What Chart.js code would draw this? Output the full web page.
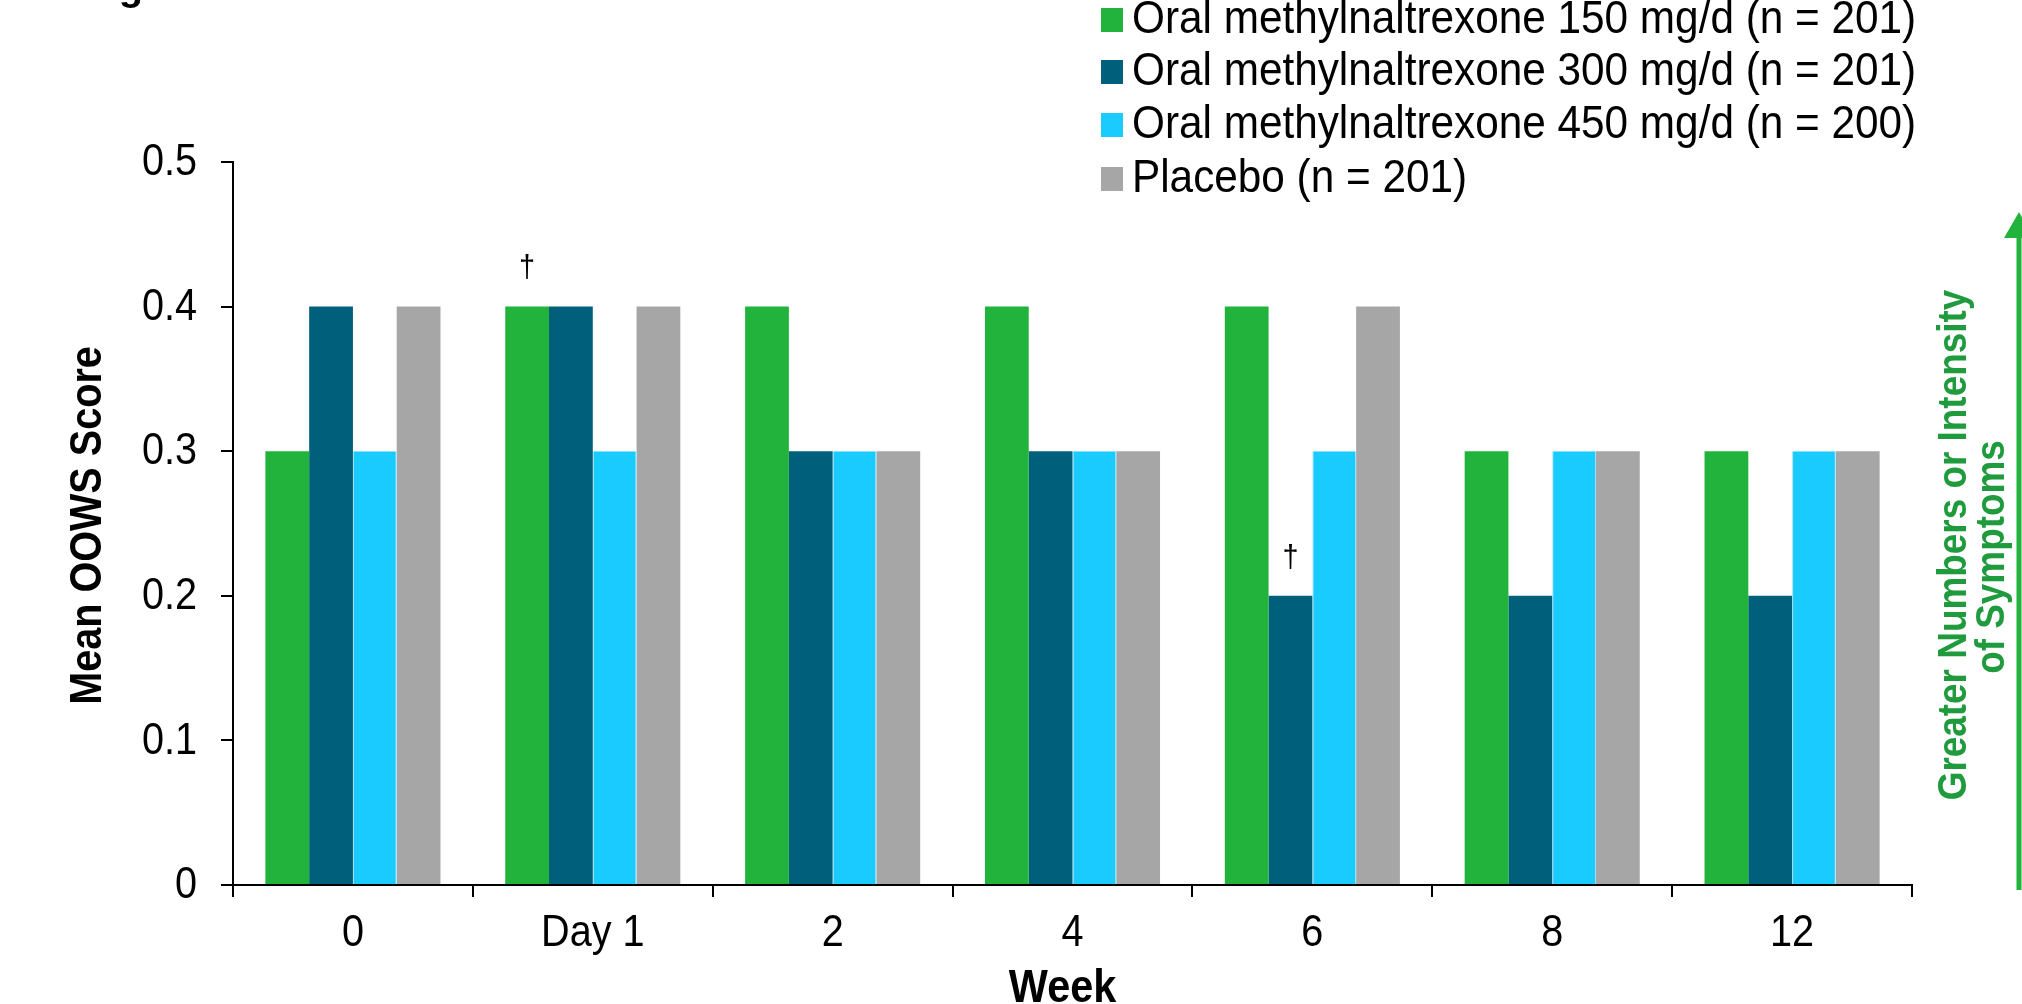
<!DOCTYPE html>
<html>
<head>
<meta charset="utf-8">
<script src="https://cdn.jsdelivr.net/npm/chart.js@4/dist/chart.umd.min.js"></script>
<style>
  html, body { margin: 0; padding: 0; background: #fff; overflow: hidden; }
  #wrap { width: 2022px; height: 1004px; }
</style>
</head>
<body>
<div id="wrap"><canvas id="c" width="2022" height="1004"></canvas></div>
<script>
// ---- data ----
const categories = ['0', 'Day 1', '2', '4', '6', '8', '12'];
const seriesNames = [
  'Oral methylnaltrexone 150 mg/d (n = 201)',
  'Oral methylnaltrexone 300 mg/d (n = 201)',
  'Oral methylnaltrexone 450 mg/d (n = 200)',
  'Placebo (n = 201)'
];
const mnx150 = [0.3, 0.4, 0.4, 0.4, 0.4, 0.3, 0.3];
const mnx300 = [0.4, 0.4, 0.3, 0.3, 0.2, 0.2, 0.2];
const mnx450 = [0.3, 0.3, 0.3, 0.3, 0.3, 0.3, 0.3];
const placebo = [0.4, 0.4, 0.3, 0.3, 0.4, 0.3, 0.3];
// significance markers (dagger) per series / category
const dagger150 = ['', '†', '', '', '', '', ''];
const dagger300 = ['', '', '', '', '†', '', ''];
const yTickLabels = ['0', '0.1', '0.2', '0.3', '0.4', '0.5'];
const yTickValues = [0, 0.1, 0.2, 0.3, 0.4, 0.5];
const xTitle = 'Week';
const yTitle = 'Mean OOWS Score';
const sideNote = ['Greater Numbers or Intensity', 'of Symptoms'];
const clippedTitle = 'g';

const colors = ['#21B33B', '#005F7A', '#1ACBFF', '#A6A6A6'];
const seriesData = [mnx150, mnx300, mnx450, placebo];
const daggers = [dagger150, dagger300, null, null];

const FONT = '"Liberation Sans", Arial, sans-serif';
const COND = 0.9; // horizontally condensed lettering, as in the source

function condText(ctx, text, x, y, font, color, align, rot) {
  ctx.save();
  ctx.translate(x, y);
  if (rot) ctx.rotate(rot);
  ctx.scale(COND, 1);
  ctx.font = font;
  ctx.fillStyle = color;
  ctx.textAlign = align;
  ctx.textBaseline = 'middle';
  ctx.fillText(text, 0, 0);
  ctx.restore();
}

const decorPlugin = {
  id: 'decor',
  afterDatasetsDraw(chart) {
    const ctx = chart.ctx;
    daggers.forEach((arr, di) => {
      if (!arr) return;
      const meta = chart.getDatasetMeta(di);
      arr.forEach((t, i) => {
        if (!t) return;
        const el = meta.data[i];
        condText(ctx, t, el.x, el.y - 38, '32px ' + FONT, '#000', 'center');
      });
    });
  },
  afterDraw(chart) {
    const ctx = chart.ctx;
    const xs = chart.scales.x, ys = chart.scales.y;
    const tickFont = '44px ' + FONT;
    const titleFont = 'bold 44px ' + FONT;
    // x tick labels
    categories.forEach((c, i) => {
      condText(ctx, c, xs.getPixelForTick(i), 934, tickFont, '#000', 'center');
    });
    // y tick labels
    yTickValues.forEach((v, i) => {
      condText(ctx, yTickLabels[i], 197, ys.getPixelForValue(v) + 1, tickFont, '#000', 'right');
    });
    // axis titles
    condText(ctx, xTitle, (chart.chartArea.left + chart.chartArea.right) / 2 - 10, 989, 'bold 46px ' + FONT, '#000', 'center');
    condText(ctx, yTitle, 89, (chart.chartArea.top + chart.chartArea.bottom) / 2 + 2, titleFont, '#000', 'center', -Math.PI / 2);
    // legend
    const rowsY = [19, 71, 124, 178];
    seriesNames.forEach((name, i) => {
      const y = rowsY[i];
      ctx.fillStyle = colors[i];
      ctx.fillRect(1101, y - 11, 22, 24);
      condText(ctx, name, 1132, y + 1, '47px ' + FONT, '#000', 'left');
    });
    // clipped title fragment at top-left
    ctx.save();
    ctx.font = 'bold 40px ' + FONT;
    ctx.textAlign = 'center';
    ctx.textBaseline = 'alphabetic';
    ctx.fillStyle = '#000';
    ctx.fillText(clippedTitle, 131, 0);
    ctx.restore();
    // side arrow
    ctx.save();
    const ax = 2019;
    ctx.strokeStyle = '#21B33B';
    ctx.fillStyle = '#21B33B';
    ctx.lineWidth = 5;
    ctx.beginPath();
    ctx.moveTo(ax, 890);
    ctx.lineTo(ax, 236);
    ctx.stroke();
    ctx.beginPath();
    ctx.moveTo(ax, 212);
    ctx.lineTo(ax - 15, 238);
    ctx.lineTo(ax + 15, 238);
    ctx.closePath();
    ctx.fill();
    ctx.restore();
    // side note text
    condText(ctx, sideNote[0], 1955, 545, 'bold 41px ' + FONT, '#1F9B3D', 'center', -Math.PI / 2);
    condText(ctx, sideNote[1], 1993, 557, 'bold 41px ' + FONT, '#1F9B3D', 'center', -Math.PI / 2);
  }
};

new Chart(document.getElementById('c'), {
  type: 'bar',
  data: {
    labels: categories,
    datasets: seriesNames.map((n, i) => ({
      label: n,
      data: seriesData[i],
      backgroundColor: colors[i],
      borderColor: i === 2 ? '#9FE0F7' : colors[i],
      borderWidth: i === 2 ? { left: 1, right: 1, top: 0, bottom: 0 } : 0,
      categoryPercentage: 0.73,
      barPercentage: 1.0
    }))
  },
  options: {
    responsive: false,
    animation: false,
    devicePixelRatio: 1,
    layout: { padding: { left: 0, right: 110, top: 162, bottom: 0 } },
    plugins: {
      legend: { display: false },
      tooltip: { enabled: false },
      title: { display: false }
    },
    scales: {
      x: {
        offset: true,
        grid: { display: true, drawOnChartArea: false, drawTicks: true, tickLength: 12, color: '#000', lineWidth: 2, offset: true },
        border: { display: true, color: '#000', width: 2 },
        ticks: { display: false },
        title: { display: false, text: xTitle },
        afterFit(scale) { scale.height = 119; }
      },
      y: {
        min: 0, max: 0.5,
        afterBuildTicks(scale) { scale.ticks = yTickValues.map(v => ({ value: v })); },
        grid: { display: true, drawOnChartArea: false, drawTicks: true, tickLength: 12, color: '#000', lineWidth: 2 },
        border: { display: true, color: '#000', width: 2 },
        ticks: { display: false },
        title: { display: false, text: yTitle },
        afterFit(scale) { scale.width = 233; }
      }
    }
  },
  plugins: [decorPlugin]
});
</script>
</body>
</html>
